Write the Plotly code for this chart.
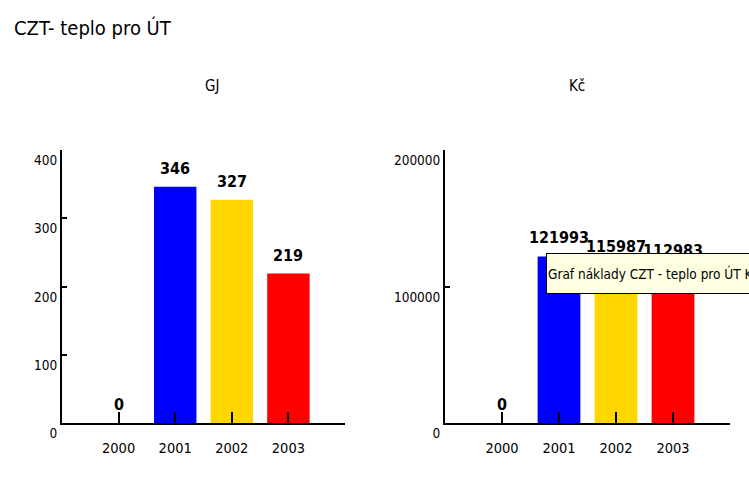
import plotly.graph_objects as go

W, H = 749, 491

years = ["2000", "2001", "2002", "2003"]
gj = [0, 346, 327, 219]
kc = [0, 121993, 115987, 112983]
bar_colors = ["#0000FF", "#0000FF", "#FFD700", "#FF0000"]

gj_ticks = [0, 100, 200, 300, 400]
kc_ticks = [0, 100000, 200000]

FONT = "DejaVu Sans Condensed, Liberation Sans Narrow, sans-serif"


def px_x(p):
    return p / W


def px_y(p):
    return (H - p) / H


fig = go.Figure()
fig.add_trace(go.Bar(x=years, y=gj, marker_color=bar_colors, marker_line_width=0,
                     xaxis="x", yaxis="y", hoverinfo="skip"))
fig.add_trace(go.Bar(x=years, y=kc, marker_color=bar_colors, marker_line_width=0,
                     xaxis="x2", yaxis="y2", hoverinfo="skip"))

xax = dict(type="category", range=[-1, 4], showline=True, linecolor="black", linewidth=2,
           ticks="inside", ticklen=11, tickcolor="black", tickwidth=1.5, automargin=False,
           showgrid=False, zeroline=False, ticklabelstandoff=11,
           tickfont=dict(family=FONT, size=14.5, color="black"))
yax = dict(showline=True, linecolor="black", linewidth=2, ticks="inside", ticklen=5,
           tickcolor="black", tickwidth=2, showgrid=False, zeroline=False,
           ticklabelposition="outside bottom", tickformat="d", automargin=False,
           tickfont=dict(family=FONT, size=13.5, color="black"))

fig.update_layout(
    width=W, height=H,
    margin=dict(l=0, r=0, t=0, b=0, autoexpand=False),
    paper_bgcolor="white", plot_bgcolor="white",
    showlegend=False, bargap=0.25,
    xaxis=dict(xax, domain=[px_x(62), px_x(345)], anchor="y"),
    yaxis=dict(yax, domain=[px_y(423), px_y(150)], range=[0, 400], tickvals=gj_ticks,
               anchor="x"),
    xaxis2=dict(xax, domain=[px_x(445), px_x(730)], anchor="y2"),
    yaxis2=dict(yax, domain=[px_y(423), px_y(150)], range=[0, 200000], tickvals=kc_ticks,
                anchor="x2"),
)

# value labels above bars (x as category index)
for xr, yr, vals in [("x", "y", gj), ("x2", "y2", kc)]:
    for i, v in enumerate(vals):
        fig.add_annotation(x=i, y=v, xref=xr, yref=yr, text=str(v), showarrow=False,
                           yanchor="bottom", yshift=7,
                           font=dict(family=FONT, size=16, color="black", weight="bold"))

fig.add_annotation(x=px_x(12), y=px_y(28), xref="paper", yref="paper", xanchor="left",
                   yanchor="middle", text="CZT- teplo pro ÚT", showarrow=False,
                   font=dict(family=FONT, size=20, color="black"))
fig.add_annotation(x=px_x(203), y=px_y(75), xref="paper", yref="paper",
                   text="GJ", showarrow=False, font=dict(family=FONT, size=15, color="black"))
fig.add_annotation(x=px_x(587), y=px_y(75), xref="paper", yref="paper",
                   text="Kč", showarrow=False, font=dict(family=FONT, size=15, color="black"))

# tooltip captured in the screenshot
fig.add_annotation(x=px_x(546), y=px_y(253), xref="paper", yref="paper", xanchor="left",
                   yanchor="top", text="Graf náklady CZT - teplo pro ÚT Kč", showarrow=False,
                   width=225, height=37, align="left", valign="middle",
                   bgcolor="#FFFFE1", bordercolor="black", borderwidth=1, borderpad=1,
                   font=dict(family=FONT, size=13.5, color="black"))

fig.write_html("out.html", config={"displayModeBar": False},
               post_script="document.body.style.margin='0';")
